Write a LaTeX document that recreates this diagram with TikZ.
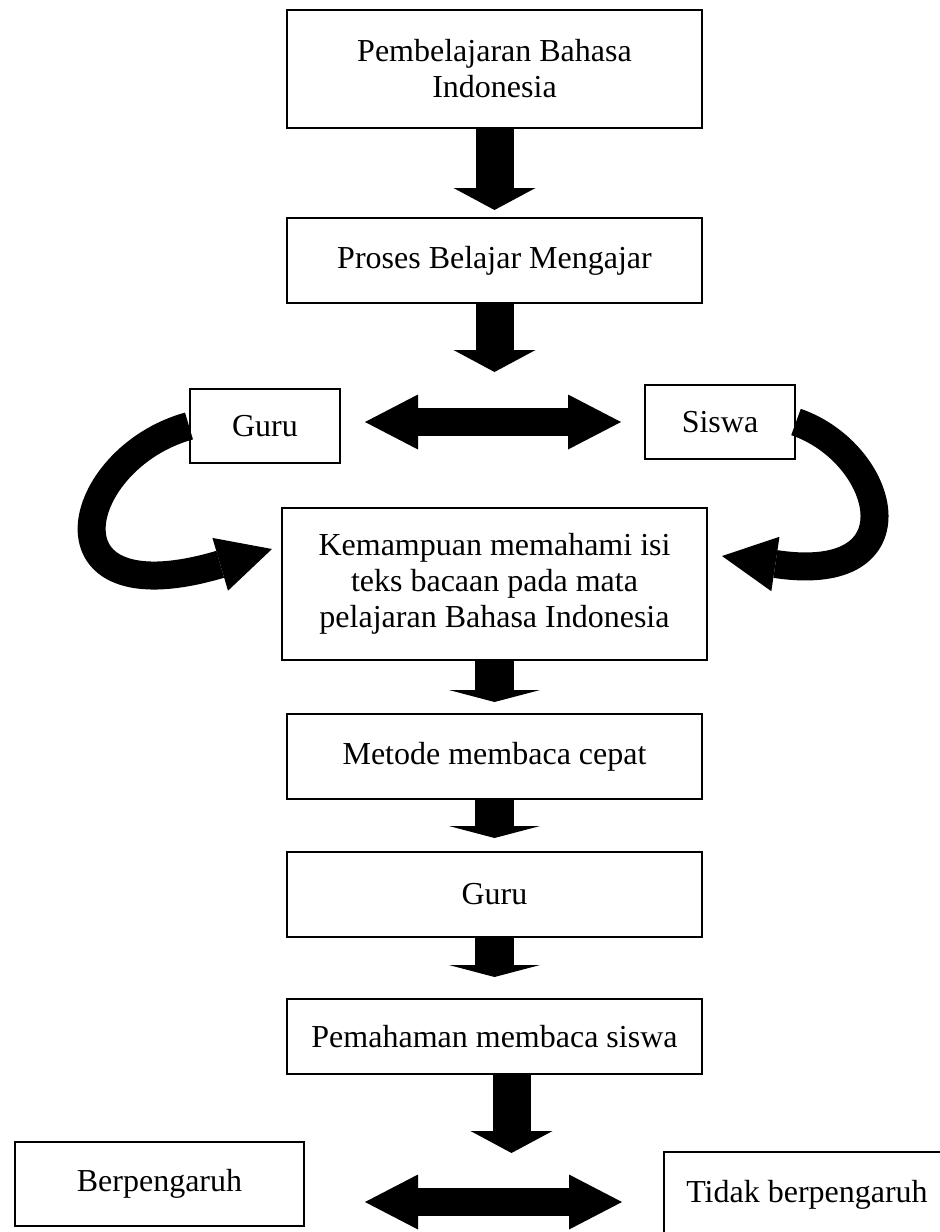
\documentclass[tikz,border=0pt]{standalone}
\usepackage{fontspec}
\setmainfont{Liberation Serif}
\usetikzlibrary{positioning,arrows.meta,calc}
\tikzset{
  flowbox/.style={draw,line width=1pt,align=center,inner sep=2pt,minimum width=207.5pt,minimum height=42.5pt,font=\fontsize{16pt}{18pt}\selectfont},
  smallbox/.style={flowbox,minimum width=75pt,minimum height=37pt},
  bigarrow/.style={line width=19pt,-{Triangle[length=11pt,width=41pt,line width=0pt]}},
  flatarrow/.style={line width=19.5pt,-{Triangle[length=6pt,width=45.5pt,line width=0pt]}},
  twoway/.style={line width=14pt,{Triangle[length=26.5pt,width=27.5pt,line width=0pt]}-{Triangle[length=26.5pt,width=27.5pt,line width=0pt]}},
  bendarrow/.style={line width=14pt,-{Triangle[length=27pt,width=27.5pt,line width=0pt]}},
}
\begin{document}
\begin{tikzpicture}[x=0.5pt,y=-0.5pt]
\useasboundingbox (0,0) rectangle (939,1232);

% main column
\node[flowbox,minimum height=59pt] (pbi) at (494.5,69) {Pembelajaran Bahasa\\Indonesia};
\node[flowbox,below=44pt of pbi] (pbm) {Proses Belajar Mengajar};
\node[smallbox,below=42pt of pbm,xshift=-114.75pt] (guru) {Guru};
\node[smallbox,below=40pt of pbm,xshift=112.75pt] (siswa) {Siswa};
\node[flowbox,minimum width=212.5pt,minimum height=76pt,below=101.5pt of pbm] (kmp) {Kemampuan memahami isi\\teks bacaan pada mata\\pelajaran Bahasa Indonesia};
\node[flowbox,below=26pt of kmp] (mmc) {Metode membaca cepat};
\node[flowbox,below=25.5pt of mmc] (guru2) {Guru};
\node[flowbox,minimum height=37.5pt,below=30pt of guru2] (pms) {Pemahaman membaca siswa};
\node[flowbox,minimum width=144.5pt,minimum height=42pt,below=33pt of pms,xshift=-167.5pt] (ya) {Berpengaruh};
\node[flowbox,minimum width=143pt,minimum height=43pt,below=38pt of pms,xshift=156.25pt] (tidak) {Tidak berpengaruh};

% free ends
\coordinate[below=34pt of pbm] (pbmend);
\coordinate[below=39pt of pms,xshift=8.5pt] (pmsend);
\coordinate (gurutip) at ($(kmp.west)+(-4.5pt,17.5pt)$);
\coordinate (siswatip) at ($(kmp.east)+(7pt,14pt)$);
\coordinate (yatip) at ($(ya.east)+(30pt,-9pt)$);
\coordinate (tidaktip) at ($(tidak.west)+(-20.5pt,-3.5pt)$);

% arrows
\draw[bigarrow,shorten >=3.5pt] (pbi.south) -- (pbi.south |- pbm.north);
\draw[bigarrow] (pbm.south) -- (pbmend);
\draw[twoway,shorten <=12pt,shorten >=11.5pt] (siswa.west -| guru.east) -- (siswa.west);
\draw[bendarrow] (guru.west) .. controls +(-116,32) and +(-237,70) .. (gurutip);
\draw[bendarrow] (siswa.east) .. controls +(90,31) and +(200,30) .. (siswatip);
\draw[flatarrow,shorten >=5.5pt] (kmp.south -| mmc.north) -- (mmc.north);
\draw[flatarrow,shorten >=6.5pt] (mmc.south) -- (guru2.north);
\draw[flatarrow,shorten >=10.5pt] (guru2.south) -- (guru2.south |- pms.north);
\draw[bigarrow] (pms.south -| pmsend) -- (pmsend);
\draw[twoway] (yatip) -- (tidaktip);

\end{tikzpicture}
\end{document}
